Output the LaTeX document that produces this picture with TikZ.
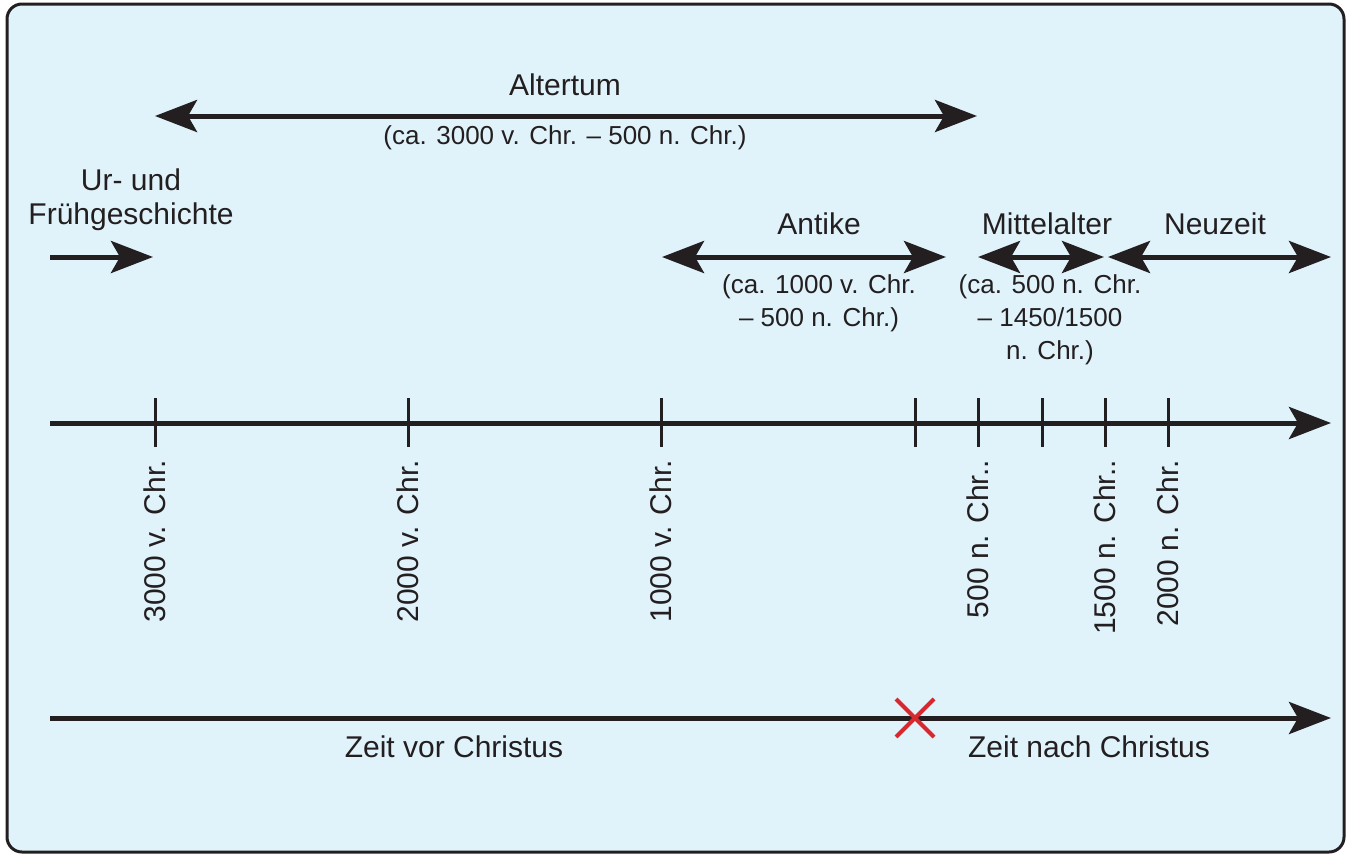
\documentclass[tikz,border=0pt]{standalone}
\usepackage{fontspec}
\setmainfont{Liberation Sans}
\usetikzlibrary{arrows.meta}
\definecolor{ink}{RGB}{35,31,32}
\definecolor{bg}{RGB}{224,243,251}
\definecolor{xred}{RGB}{215,40,47}
\tikzset{
  tip/.tip={Stealth[length=42pt,width=32pt,inset=9pt]},
  bigarrow/.style={ink,line width=5pt,-tip},
  dblarrow/.style={ink,line width=5pt,tip-tip},
  tickline/.style={ink,line width=3pt},
  biglabel/.style={text=ink,font=\fontsize{30}{34}\selectfont,inner sep=0pt},
  smalllabel/.style={text=ink,font=\fontsize{26}{33}\selectfont,inner sep=0pt,align=center},
  yearlabel/.style={text=ink,font=\fontsize{30}{34}\selectfont,inner sep=0pt,rotate=90,anchor=east},
}
\begin{document}
\begin{tikzpicture}[x=1pt,y=-1pt]
\useasboundingbox (0,0) rectangle (1349,854);
\draw[ink,fill=bg,line width=3pt,rounded corners=15pt] (7,4) rectangle (1344,852);

% Altertum
\coordinate (altL) at (155,116);
\coordinate (altR) at (977,116);
\draw[dblarrow] (altL) -- (altR);
\node[biglabel] (alt) at (565,85) {Altertum};
\node[smalllabel] (altsub) at (565,138) {(ca. 3000 v. Chr. – 500 n. Chr.)};

% Ur- und Fruehgeschichte
\coordinate (urL) at (50,257);
\coordinate (urR) at (153,257);
\draw[bigarrow] (urL) -- (urR);
\node[biglabel,align=center] (ur) at (131,200) {Ur- und\\Frühgeschichte};

% Antike
\coordinate (antL) at (662,257);
\coordinate (antR) at (946,257);
\draw[dblarrow] (antL) -- (antR);
\node[biglabel] (ant) at (819,224) {Antike};
\node[smalllabel,anchor=north] (antsub) at (819,274) {(ca. 1000 v. Chr.\\– 500 n. Chr.)};

% Mittelalter
\coordinate (mitL) at (978,257);
\coordinate (mitR) at (1104,257);
\draw[dblarrow] (mitL) -- (mitR);
\node[biglabel] (mit) at (1047,224) {Mittelalter};
\node[smalllabel,anchor=north] (mitsub) at (1050,274) {(ca. 500 n. Chr.\\– 1450/1500\\n. Chr.)};

% Neuzeit
\coordinate (neuL) at (1108,257);
\coordinate (neuR) at (1331,257);
\draw[dblarrow] (neuL) -- (neuR);
\node[biglabel] (neu) at (1215,224) {Neuzeit};

% main axis
\coordinate (axL) at (50,423);
\coordinate (axR) at (1331,423);
\draw[bigarrow] (axL) -- (axR);
\foreach \x in {155,408,661,915,978,1042,1105,1168}
  \draw[tickline] (\x,398) -- (\x,447);
\node[yearlabel] (y3000) at (155,460) {3000 v. Chr.};
\node[yearlabel] (y2000) at (408,460) {2000 v. Chr.};
\node[yearlabel] (y1000) at (661,460) {1000 v. Chr.};
\node[yearlabel] (y500) at (978,460) {500 n. Chr..};
\node[yearlabel] (y1500) at (1105,460) {1500 n. Chr..};
\node[yearlabel] (y2000n) at (1168,460) {2000 n. Chr.};

% bottom axis
\coordinate (bL) at (50,718);
\coordinate (bR) at (1331,718);
\draw[bigarrow] (bL) -- (bR);
\coordinate (zero) at (915,718);
\draw[xred,line width=4pt] ([shift={(-19,-19)}]zero) -- ([shift={(19,19)}]zero)
  ([shift={(-19,19)}]zero) -- ([shift={(19,-19)}]zero);
\node[biglabel] (vor) at (454,747) {Zeit vor Christus};
\node[biglabel] (nach) at (1089,747) {Zeit nach Christus};
\end{tikzpicture}
\end{document}
